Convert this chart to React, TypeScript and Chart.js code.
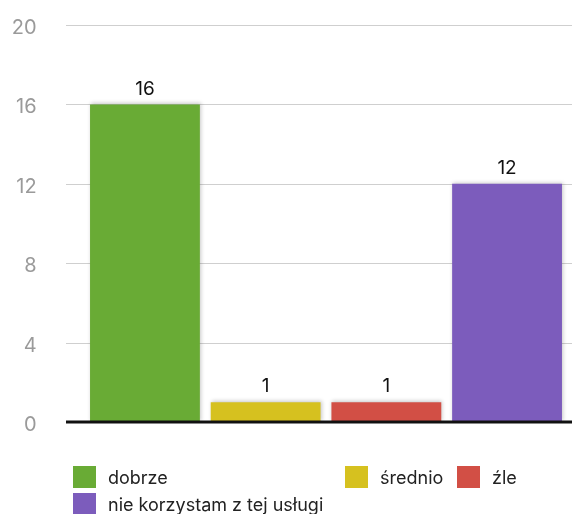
import React, { useEffect, useRef } from "react";
import { Chart, registerables } from "chart.js";

Chart.register(...registerables);

const categories = ["dobrze", "średnio", "źle", "nie korzystam z tej usługi"];
const values = [16, 1, 1, 12];
const colors = ["#69ab35", "#d6c11f", "#d24f45", "#7c5cbc"];
const yTicks = [0, 4, 8, 12, 16, 20];

const FONT = "Inter, 'Noto Sans', sans-serif";

// legend layout (positions only)
const legendPos = [
  { left: 73, top: 466 },
  { left: 345, top: 466 },
  { left: 457, top: 466 },
  { left: 73, top: 493 },
];

const gridPlugin = {
  id: "customGrid",
  beforeDatasetsDraw(chart: any) {
    const { ctx, scales } = chart;
    const y = scales.y;
    const x0 = 66;
    const x1 = chart.width;
    ctx.save();
    yTicks.forEach((v) => {
      const py = Math.round(y.getPixelForValue(v));
      if (v === 0) return;
      ctx.strokeStyle = "#cfcfcf";
      ctx.lineWidth = 1;
      ctx.beginPath();
      ctx.moveTo(x0, py + 0.5);
      ctx.lineTo(x1, py + 0.5);
      ctx.stroke();
    });
    ctx.restore();
  },
  afterDatasetsDraw(chart: any) {
    const { ctx, scales } = chart;
    const y = scales.y;
    const py = y.getPixelForValue(0);
    ctx.save();
    ctx.strokeStyle = "#111";
    ctx.lineWidth = 3;
    ctx.beginPath();
    ctx.moveTo(66, py);
    ctx.lineTo(chart.width, py);
    ctx.stroke();
    // data labels
    const meta = chart.getDatasetMeta(0);
    ctx.fillStyle = "#111";
    ctx.font = `19px ${FONT}`;
    ctx.textAlign = "center";
    ctx.textBaseline = "bottom";
    meta.data.forEach((bar: any, i: number) => {
      ctx.fillText(String(values[i]), bar.x, bar.y - 6);
    });
    ctx.restore();
  },
};

const shadowPlugin = {
  id: "barShadow",
  beforeDatasetDraw(chart: any) {
    const ctx = chart.ctx;
    ctx.save();
    ctx.shadowColor = "rgba(0,0,0,0.22)";
    ctx.shadowBlur = 4;
    ctx.shadowOffsetX = 1;
    ctx.shadowOffsetY = -1;
  },
  afterDatasetDraw(chart: any) {
    chart.ctx.restore();
  },
};

export default function App() {
  const ref = useRef<HTMLCanvasElement>(null);

  useEffect(() => {
    if (!ref.current) return;
    const chart = new Chart(ref.current, {
      type: "bar",
      data: {
        labels: categories,
        datasets: [
          {
            data: values,
            backgroundColor: colors,
            borderWidth: 0,
            barPercentage: 0.91,
            categoryPercentage: 1,
          },
        ],
      },
      options: {
        animation: false,
        responsive: false,
        maintainAspectRatio: false,
        layout: { padding: { top: 25, bottom: 92, right: 4.6, left: 0 } },
        plugins: {
          legend: { display: false },
          tooltip: { enabled: false },
        },
        scales: {
          x: {
            display: false,
          },
          y: {
            min: 0,
            max: 20,
            afterFit(scale: any) {
              scale.width = 84.6;
              scale.paddingTop = 0;
              scale.paddingBottom = 0;
            },
            afterBuildTicks(scale: any) {
              scale.ticks = yTicks.map((v) => ({ value: v }));
            },
            grid: { display: false, drawTicks: false },
            border: { display: false },
            ticks: {
              padding: 48,
              labelOffset: 3,
              color: "#9a9a9a",
              font: { family: FONT, size: 20 },
            },
          },
        },
      },
      plugins: [gridPlugin, shadowPlugin],
    });
    return () => chart.destroy();
  }, []);

  return (
    <div style={{ position: "absolute", left: 0, top: 0, width: 572, height: 514, overflow: "hidden", background: "#fff" }}>
      <canvas ref={ref} width={572} height={514} style={{ position: "absolute", left: 0, top: 0 }} />
      {categories.map((c, i) => (
        <div
          key={c}
          style={{
            position: "absolute",
            left: legendPos[i].left,
            top: legendPos[i].top,
            display: "flex",
            alignItems: "center",
            fontFamily: FONT,
            fontSize: 18,
            color: "#222",
            whiteSpace: "nowrap",
            height: 22,
          }}
        >
          <span style={{ display: "inline-block", width: 23, height: 22, background: colors[i], marginRight: 12 }} />
          <span>{c}</span>
        </div>
      ))}
    </div>
  );
}
